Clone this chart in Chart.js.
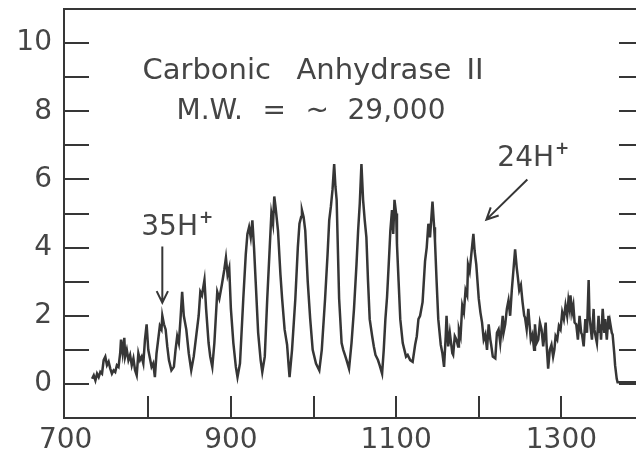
<!DOCTYPE html>
<html>
<head>
<meta charset="utf-8">
<script src="https://cdn.jsdelivr.net/npm/chart.js@4.4.1/dist/chart.umd.min.js"></script>
<style>
  html, body { margin: 0; padding: 0; background: #ffffff; overflow: hidden; }
  #wrap { width: 636px; height: 455px; overflow: hidden; position: relative; }
  canvas { position: absolute; left: 0; top: 0; }
</style>
</head>
<body>
<div id="wrap"><canvas id="c" width="660" height="455"></canvas></div>
<script>
// ---- data (m/z vs relative intensity) ----
const mz = [
 732,734,736,738,740,742,744,746,748,750,752,754,756,758,760,762,764,766,767,769,771,772,774,776,778,780,782,784,786,788,790,792,794,796,798,800,802,804,806,808,810,812,814,816,817,819,821,823,825,828,
 831,833,835,837,839,841,843,846,849,852,855,858,861,863,865,868,870,873,875,877.5,880,883.5,886,889,892,894,896,898,900,903,906,908,911,915,918,920,922,924,926,928,930,933,936,938,941,944,947,949,951,952.5,
 954,957,960,962,965,967,968,970,971,974,978,981,983,985,986,988,990,993,996,999,1003,1007,1010,1014,1017,1019,1021,1023,1025,1026.5,1028,1031,1034,1036,1038,1040,1043,1046,1049,1052,1054,1056,1058,1060,1062,1064,1066,1068,1071,1073,
 1075,1078,1080,1083,1085,1087,1089,1091,1093,1095,1096.5,1098,1100,1101,1103,1105,1108,1110,1112,1114,1117,1120,1123,1125,1127,1129,1132,1135,1137,1139,1141,1144,1146,1147,1149,1151,1154,1156,1158,1160,1161,1163,1165,1166,1168,1169,1171,1173,1175,1176,
 1178,1180,1182,1184,1186,1187,1189,1191,1193.5,1195,1197,1200,1202,1204,1206,1208,1210,1212,1214,1215,1217,1220,1222,1224,1226,1229,1230,1232,1234,1236,1238,1240,1242,1244,1246,1247,1249,1251,1253,1255,1256,1258,1260,1262,1263,1265,1267,1268,1270,1272,
 1274,1276,1278,1281,1282,1284,1286,1288,1290,1291.5,1293,1295,1297,1299,1301,1303,1305,1307,1308.5,1310,1311,1313,1314.5,1316,1318,1320,1322,1324,1325,1327,1329,1331,1333,1334,1335,1337,1339,1340,1341,1343,1345,1346,1347,1348,1350,1352,1353,1355,1357,1358,
 1359,1361,1362,1364,1365,1367,1368,1380,1400
];
const intensity = [
 0.15,0.25,0.1,0.3,0.2,0.35,0.3,0.7,0.8,0.55,0.65,0.45,0.3,0.4,0.35,0.55,0.5,0.9,1.3,0.9,1.35,0.8,1.0,0.7,0.85,0.55,0.75,0.4,0.25,0.9,0.7,0.8,0.6,1.3,1.75,1.0,0.75,0.5,0.6,0.2,0.9,1.3,1.7,1.6,2.0,1.75,1.6,1.1,0.7,0.4,
 0.5,1.0,1.4,1.2,1.9,2.7,2.0,1.6,0.9,0.4,0.8,1.4,2.0,2.7,2.6,3.05,2.2,1.2,0.8,0.5,1.2,2.7,2.5,2.9,3.35,3.7,3.2,3.4,2.2,1.2,0.5,0.2,0.6,2.5,3.8,4.4,4.6,4.3,4.8,4.0,3.0,1.5,0.7,0.35,0.8,2.5,4.0,5.0,4.7,5.5,
 5.2,4.5,3.2,2.5,1.6,1.3,1.15,0.5,0.2,1.0,2.5,4.0,4.7,4.9,5.1,4.9,4.5,3.0,1.9,1.0,0.6,0.4,1.0,2.5,3.8,4.8,5.2,5.7,6.45,5.8,5.4,2.5,1.2,1.0,0.85,0.7,0.45,1.2,2.2,3.5,4.5,5.3,6.45,5.4,4.8,4.3,3.0,1.9,1.4,1.1,
 0.85,0.7,0.55,0.3,1.0,1.9,2.55,3.5,4.5,5.1,4.4,5.4,5.0,4.1,3.0,1.9,1.2,1.0,0.8,0.85,0.7,0.65,1.15,1.4,1.9,2.0,2.4,3.6,4.0,4.7,4.3,5.35,4.6,4.2,3.0,1.9,1.15,0.9,0.5,1.4,2.0,1.1,1.5,1.3,0.9,0.85,1.4,1.3,1.1,1.6,
 1.4,2.3,2.1,2.75,2.6,3.5,3.3,3.8,4.4,3.9,3.5,2.5,2.1,1.8,1.3,1.45,1.0,1.75,1.3,1.15,0.8,0.75,1.5,1.6,1.2,2.0,1.5,1.75,2.2,2.45,2.0,2.75,3.35,3.95,3.4,3.2,2.75,2.9,2.4,2.0,1.95,1.6,2.2,1.6,1.3,1.45,1.0,1.75,1.2,1.3,
 1.8,1.6,1.1,1.8,1.2,0.45,1.0,1.15,0.8,1.0,1.4,1.3,1.7,1.6,2.1,1.9,2.3,2.0,2.45,2.2,2.6,2.1,2.3,1.8,1.75,1.3,2.0,1.5,1.45,1.1,1.9,1.5,3.05,2.0,1.75,1.3,2.2,1.6,1.45,1.2,2.0,1.5,1.75,1.3,2.2,1.5,1.9,1.3,2.0,1.6,
 1.8,1.5,1.45,0.9,0.55,0.15,0.05,0.05,0.05
];
const xLabelValues = [700, 900, 1100, 1300];
const xMinorTicks = [800, 900, 1000, 1100, 1200, 1300];
const yLabelValues = [0, 2, 4, 6, 8, 10];
const yMinorTicks = [0, 1, 2, 3, 4, 5, 6, 7, 8, 9, 10];
const titleLine1 = ['Carbonic', 'Anhydrase', 'II'];
const titleLine2 = ['M.W.', '=', '~', '29,000'];

const INK = '#363636';
const TXT = '#454545';
const FONT = '"DejaVu Sans", sans-serif';

const frame = {
  id: 'frame',
  afterDraw(chart) {
    const { ctx, chartArea: a, scales: { x, y } } = chart;
    ctx.save();
    ctx.strokeStyle = INK;
    ctx.lineWidth = 2;
    // box
    ctx.beginPath();
    ctx.moveTo(a.left, a.top); ctx.lineTo(a.right, a.top);
    ctx.moveTo(a.right, a.top); ctx.lineTo(a.right, a.bottom);
    ctx.stroke();
    // inward ticks
    ctx.beginPath();
    yMinorTicks.forEach(v => {
      const py = Math.round(y.getPixelForValue(v));
      ctx.moveTo(a.left, py); ctx.lineTo(a.left + 25, py);
      ctx.moveTo(a.right - 25, py); ctx.lineTo(a.right, py);
    });
    xMinorTicks.forEach(v => {
      const px = Math.round(x.getPixelForValue(v));
      ctx.moveTo(px, a.bottom); ctx.lineTo(px, a.bottom - 22);
    });
    ctx.stroke();

    // title text
    ctx.fillStyle = TXT;
    ctx.textBaseline = 'alphabetic';
    ctx.textAlign = 'left';
    ctx.font = '29px ' + FONT;
    const cx = x.getPixelForValue(1000);
    const b1 = y.getPixelForValue(8.94), b2 = y.getPixelForValue(7.78);
    const off1 = [-171, -17, 153];
    titleLine1.forEach((w, i) => ctx.fillText(w, cx + off1[i], b1));
    ctx.font = '28px ' + FONT;
    const off2 = [-137, -51, -8, 34];
    titleLine2.forEach((w, i) => ctx.fillText(w, cx + off2[i], b2));

    // annotations
    function label(txt, xv, yv) {
      const px = x.getPixelForValue(xv), py = y.getPixelForValue(yv);
      ctx.font = '28px ' + FONT;
      ctx.fillText(txt, px, py);
      const w = ctx.measureText(txt).width;
      ctx.font = 'bold 17px ' + FONT;
      ctx.fillText('+', px + w + 1, py - 12);
    }
    label('35H', 791.5, 4.38);
    label('24H', 1222.5, 6.38);

    function arrow(x0, y0, x1, y1) {
      const p0x = x.getPixelForValue(x0), p0y = y.getPixelForValue(y0);
      const p1x = x.getPixelForValue(x1), p1y = y.getPixelForValue(y1);
      const ang = Math.atan2(p1y - p0y, p1x - p0x);
      const hl = 13, ha = 0.45;
      ctx.beginPath();
      ctx.moveTo(p0x, p0y); ctx.lineTo(p1x, p1y);
      ctx.moveTo(p1x - hl * Math.cos(ang - ha), p1y - hl * Math.sin(ang - ha));
      ctx.lineTo(p1x, p1y);
      ctx.lineTo(p1x - hl * Math.cos(ang + ha), p1y - hl * Math.sin(ang + ha));
      ctx.stroke();
    }
    ctx.lineWidth = 2;
    arrow(817, 4.03, 817, 2.38);
    arrow(1258.8, 6.0, 1209.2, 4.82);
    ctx.restore();
  }
};

new Chart(document.getElementById('c'), {
  type: 'line',
  data: {
    datasets: [{
      data: mz.map((m, i) => ({ x: m, y: intensity[i] })),
      borderColor: INK,
      borderWidth: 2.5,
      pointRadius: 0,
      tension: 0,
      fill: false
    }]
  },
  options: {
    responsive: false,
    animation: false,
    devicePixelRatio: 1,
    layout: { padding: { top: 9, right: 16, left: 0, bottom: 0 } },
    plugins: { legend: { display: false }, tooltip: { enabled: false }, title: { display: false } },
    scales: {
      x: {
        type: 'linear', min: 698, max: 1400,
        afterBuildTicks: s => { s.ticks = xLabelValues.map(v => ({ value: v })); },
        afterFit: s => { s.height = 37; s.paddingLeft = 0; s.paddingRight = 0; },
        grid: { display: false, drawTicks: false },
        border: { display: true, color: INK, width: 2 },
        ticks: { color: TXT, font: { family: FONT, size: 28 }, padding: 6, autoSkip: false, maxRotation: 0,
                 callback: v => String(v) }
      },
      y: {
        type: 'linear', min: -1, max: 11,
        afterBuildTicks: s => { s.ticks = yLabelValues.map(v => ({ value: v })); },
        afterFit: s => { s.width = 64; s.paddingTop = 0; s.paddingBottom = 0; },
        grid: { display: false, drawTicks: false },
        border: { display: true, color: INK, width: 2 },
        ticks: { color: TXT, font: { family: FONT, size: 28 }, padding: 12, autoSkip: false,
                 callback: v => String(v) }
      }
    }
  },
  plugins: [frame]
});
</script>
</body>
</html>
